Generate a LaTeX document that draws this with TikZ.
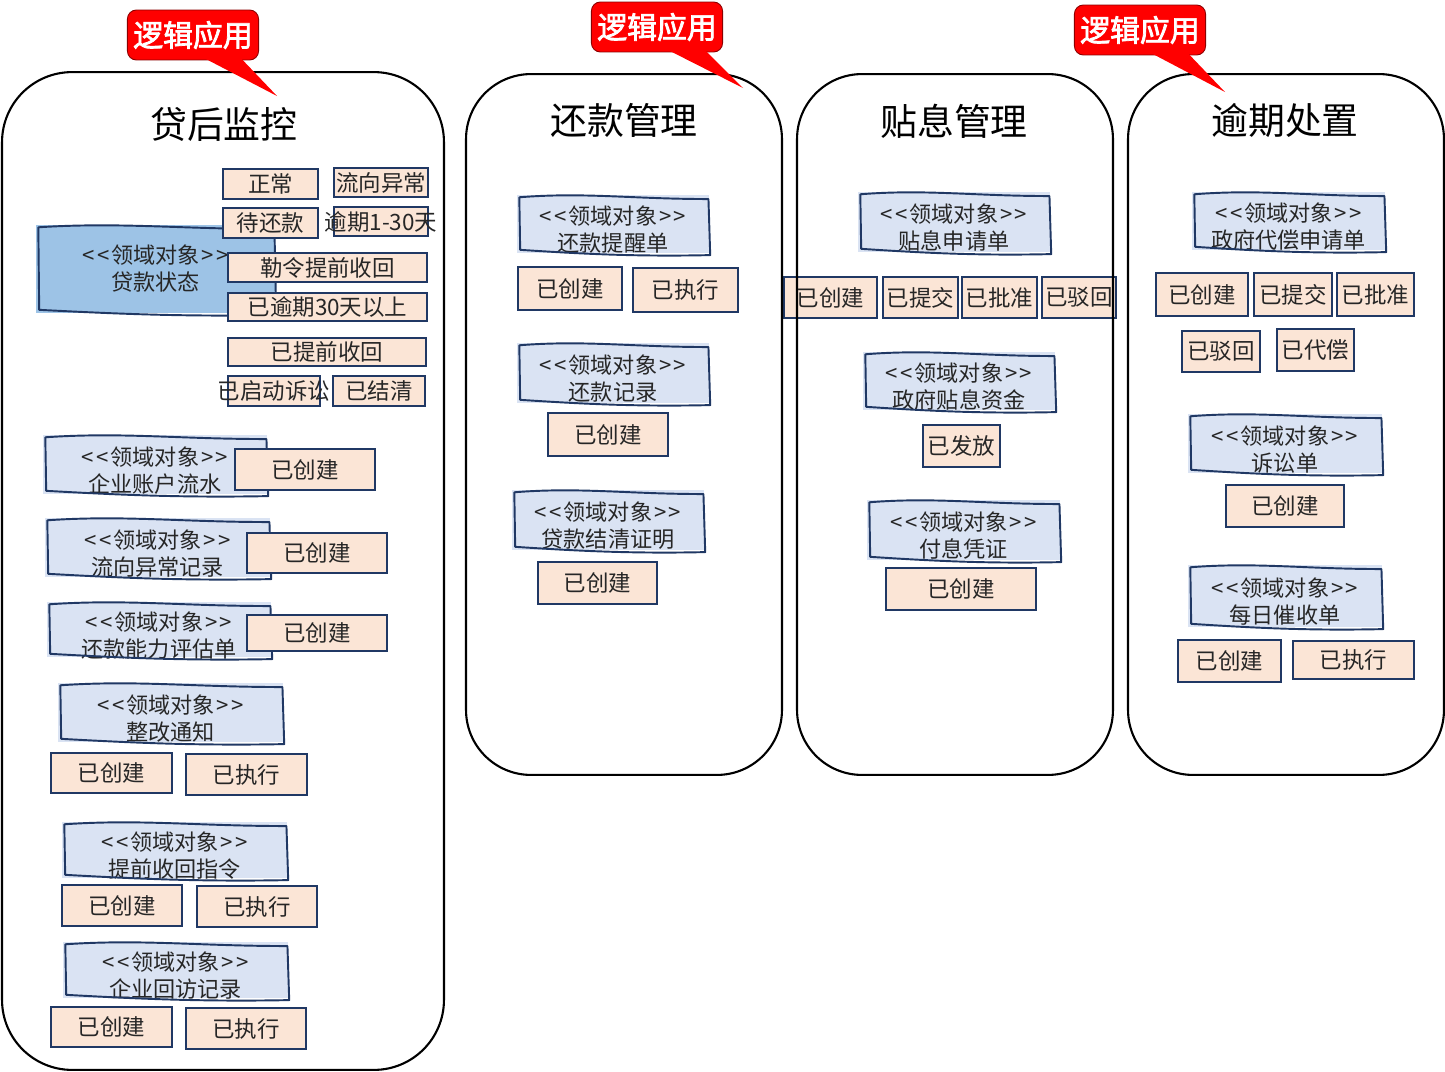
\documentclass[tikz,border=0pt]{standalone}
\usepackage{fontspec}
\setmainfont{Noto Sans CJK SC}
\newfontfamily\calloutfont{Noto Sans CJK SC}[FakeBold=2.5]
\usepackage{tikz}
\usetikzlibrary{positioning, calc}
\definecolor{tagred}{RGB}{255,0,0}
\definecolor{stfill}{RGB}{251,229,214}
\definecolor{stline}{RGB}{32,56,100}
\definecolor{dofill}{RGB}{218,227,243}
\definecolor{dodark}{RGB}{157,195,230}
\definecolor{txtgray}{RGB}{38,38,38}
\newcommand{\dotag}{<\kern1.5pt<\kern1pt领域对象\kern1pt>\kern1.5pt>}
% hand-drawn outline round a domain object
\newcommand{\sketchline}[1]{%
  \draw[sketch]
    ([shift={(1.5pt,-1.5pt)}]#1.north west)
    .. controls ($(#1.north west)!0.35!(#1.north east)+(0,1.5pt)$)
            and ($(#1.north west)!0.6!(#1.north east)+(0,-2.5pt)$)
    .. ([shift={(-0.5pt,-2.5pt)}]#1.north east)
    -- ([shift={(0.5pt,-1pt)}]#1.south east)
    .. controls ($(#1.south west)!0.6!(#1.south east)+(0,-2pt)$)
            and ($(#1.south west)!0.3!(#1.south east)$)
    .. ([shift={(2pt,2pt)}]#1.south west)
    -- cycle;}
\tikzset{
  %% ---- lanes ----
  lane/.style      = {rectangle, rounded corners=1.3cm,
                      draw=black, line width=1.2pt},
  lanetitle/.style = {font=\fontsize{21}{25}\selectfont, text=black},
  callout/.style   = {rectangle, rounded corners=0.18cm,
                      fill=tagred, draw=tagred!55!black, line width=0.5pt,
                      minimum width=2.52cm, minimum height=1cm, text=white,
                      font=\calloutfont\fontsize{17}{20}\selectfont},
  tail/.style      = {fill=tagred},
  %% ---- boxes ----
  domainbox/.style = {rectangle, fill=#1, inner sep=0pt},
  domainbox/.default = dofill,
  sketch/.style    = {draw=stline, line width=1.1pt, line join=round},
  dotext/.style    = {align=center, yshift=-0.12cm, text=txtgray,
                      font=\fontsize{12.6}{15.4}\selectfont},
  statebox/.style 2 args = {rectangle, draw=stline, line width=1.2pt,
                      fill=stfill, minimum width=#1, minimum height=#2,
                      inner sep=0pt, text=txtgray,
                      font=\fontsize{12.8}{15}\selectfont},
}
\begin{document}
\begin{tikzpicture}[x=0.02cm, y=-0.02cm]
\useasboundingbox (0,0) rectangle (1445,1072);

%% domain objects
\node[domainbox=dodark, minimum width=4.78cm, minimum height=1.76cm,
      label={[dotext, yshift=0.12cm]center:\dotag\\贷款状态}] (dkzt) at (155.5,269) {};
\node[domainbox, minimum width=4.48cm, minimum height=1.18cm,
      label={[dotext]center:\dotag\\企业账户流水}] (qyzhls) at (155,464.5) {};
\node[domainbox, minimum width=4.5cm, minimum height=1.18cm,
      label={[dotext]center:\dotag\\流向异常记录}] (lxycjl) at (157.5,547.5) {};
\node[domainbox, minimum width=4.48cm, minimum height=1.1cm,
      label={[dotext]center:\dotag\\还款能力评估单}] (hknlpg) at (159,629.5) {};
\node[domainbox, minimum width=4.5cm, minimum height=1.18cm,
      label={[dotext]center:\dotag\\整改通知}] (zgtz) at (170.5,712.5) {};
\node[domainbox, minimum width=4.5cm, minimum height=1.12cm,
      label={[dotext]center:\dotag\\提前收回指令}] (tqshzl) at (174.5,850) {};
\node[domainbox, minimum width=4.5cm, minimum height=1.12cm,
      label={[dotext]center:\dotag\\企业回访记录}] (qyhfjl) at (175.5,970) {};

\node[domainbox, minimum width=3.84cm, minimum height=1.16cm,
      label={[dotext]center:\dotag\\还款提醒单}] (hktxd) at (613,224) {};
\node[domainbox, minimum width=3.84cm, minimum height=1.2cm,
      label={[dotext]center:\dotag\\还款记录}] (hkjl) at (613,373) {};
\node[domainbox, minimum width=3.84cm, minimum height=1.2cm,
      label={[dotext]center:\dotag\\贷款结清证明}] (dkjqzm) at (608,520) {};

\node[domainbox, minimum width=3.84cm, minimum height=1.2cm,
      label={[dotext]center:\dotag\\贴息申请单}] (txsqd) at (954,222) {};
\node[domainbox, minimum width=3.84cm, minimum height=1.16cm,
      label={[dotext]center:\dotag\\政府贴息资金}] (zftxzj) at (959,381) {};
\node[domainbox, minimum width=3.86cm, minimum height=1.2cm,
      label={[dotext]center:\dotag\\付息凭证}] (fxpz) at (963.5,530) {};

\node[domainbox, minimum width=3.86cm, minimum height=1.16cm,
      label={[dotext]center:\dotag\\政府代偿申请单}] (zfdcsq) at (1288.5,221) {};
\node[domainbox, minimum width=3.88cm, minimum height=1.18cm,
      label={[dotext]center:\dotag\\诉讼单}] (ssd) at (1285,443.5) {};
\node[domainbox, minimum width=3.88cm, minimum height=1.24cm,
      label={[dotext]center:\dotag\\每日催收单}] (mrcsd) at (1285,596) {};

\foreach \n in {dkzt, qyzhls, lxycjl, hknlpg, zgtz, tqshzl, qyhfjl,
                hktxd, hkjl, dkjqzm, txsqd, zftxzj, fxpz, zfdcsq, ssd, mrcsd}
  {\sketchline{\n}}

%% states -- 贷后监控
\node[statebox={1.9cm}{0.6cm}]   (zc)    at (270.5,184)   {正常};
\node[statebox={1.88cm}{0.58cm}] (lxyc)  at (381,182.5)   {流向异常};
\node[statebox={1.9cm}{0.6cm}]   (dhk)   at (270.5,223)   {待还款};
\node[statebox={1.88cm}{0.58cm}] (yq130) at (381,221.5)   {\makebox[0pt]{逾期1-30天}};
\node[statebox={3.98cm}{0.58cm}] (llsh)  at (327.5,267.5) {勒令提前收回};
\node[statebox={3.98cm}{0.56cm}] (yyq30) at (327.5,307)   {已逾期30天以上};
\node[statebox={3.96cm}{0.56cm}] (ytqsh) at (327,352)     {已提前收回};
\node[statebox={1.84cm}{0.6cm}]  (yqdss) at (274,391)     {\makebox[0pt]{已启动诉讼}};
\node[statebox={1.84cm}{0.6cm}]  (yjq)   at (379,391)     {已结清};

\node[statebox={2.8cm}{0.82cm}]  (qyzh-cj) at (305,469.5) {已创建};
\node[statebox={2.8cm}{0.8cm}]   (lxyc-cj) at (317,553)   {已创建};
\node[statebox={2.8cm}{0.72cm}]  (hknl-cj) at (317,633)   {已创建};
\node[statebox={2.42cm}{0.8cm}]  (zgtz-cj) at (111.5,773) {已创建};
\node[statebox={2.42cm}{0.82cm}] (zgtz-zx) at (246.5,774.5) {已执行};
\node[statebox={2.4cm}{0.82cm}]  (tqsh-cj) at (122,905.5) {已创建};
\node[statebox={2.4cm}{0.82cm}]  (tqsh-zx) at (257,906.5) {已执行};
\node[statebox={2.42cm}{0.8cm}]  (qyhf-cj) at (111.5,1027) {已创建};
\node[statebox={2.4cm}{0.82cm}]  (qyhf-zx) at (246,1028.5) {已执行};

%% states -- 还款管理
\node[statebox={2.08cm}{0.86cm}] (hktx-cj) at (570,288.5) {已创建};
\node[statebox={2.1cm}{0.88cm}]  (hktx-zx) at (685.5,290) {已执行};
\node[statebox={2.4cm}{0.86cm}]  (hkjl-cj) at (608,434.5) {已创建};
\node[statebox={2.38cm}{0.84cm}] (dkjq-cj) at (597.5,583) {已创建};

%% states -- 贴息管理
\node[statebox={1.86cm}{0.82cm}] (txsq-cj) at (830.5,297.5) {已创建};
\node[statebox={1.5cm}{0.82cm}]  (txsq-tj) at (920.5,297.5) {已提交};
\node[statebox={1.5cm}{0.82cm}]  (txsq-pz) at (999.5,297.5) {已批准};
\node[statebox={1.48cm}{0.82cm}] (txsq-bh) at (1079,297.5)  {已驳回};
\node[statebox={1.54cm}{0.84cm}] (zftx-ff) at (961.5,446)   {已发放};
\node[statebox={3.0cm}{0.84cm}]  (fxpz-cj) at (961,589)     {已创建};

%% states -- 逾期处置
\node[statebox={1.84cm}{0.86cm}] (zfdc-cj) at (1202,294.5)   {已创建};
\node[statebox={1.56cm}{0.86cm}] (zfdc-tj) at (1293,294.5)   {已提交};
\node[statebox={1.54cm}{0.86cm}] (zfdc-pz) at (1375.5,294.5) {已批准};
\node[statebox={1.56cm}{0.82cm}] (zfdc-bh) at (1221,351.5)   {已驳回};
\node[statebox={1.54cm}{0.84cm}] (zfdc-dc) at (1315.5,350)   {已代偿};
\node[statebox={2.36cm}{0.84cm}] (ssd-cj)  at (1285,506)     {已创建};
\node[statebox={2.06cm}{0.84cm}] (mrcs-cj) at (1229.5,661)   {已创建};
\node[statebox={2.42cm}{0.76cm}] (mrcs-zx) at (1353.5,660)   {已执行};

%% lanes
\node[lane, rounded corners=1.4cm, minimum width=8.84cm, minimum height=19.96cm] (dhjk) at (223,571) {};
\node[lane, minimum width=6.32cm, minimum height=14.02cm] (hkgl) at (624,424.5) {};
\node[lane, minimum width=6.32cm, minimum height=14.02cm] (txgl) at (955,424.5) {};
\node[lane, minimum width=6.32cm, minimum height=14.02cm] (yqcz) at (1286,424.5) {};
\node[lanetitle] (dhjk-t) at (224,124)   {贷后监控};
\node[lanetitle] (hkgl-t) at (624,120)   {还款管理};
\node[lanetitle] (txgl-t) at (954,121)   {贴息管理};
\node[lanetitle] (yqcz-t) at (1285,120)  {逾期处置};

%% callouts
\node[callout] (call1) at (193,35) {逻辑应用};
\node[callout] (call2) at (657,27) {逻辑应用};
\node[callout] (call3) at (1140,30) {逻辑应用};
\coordinate (tip1) at (277,96);
\coordinate (tip2) at (743,88);
\coordinate (tip3) at (1225,92);
\fill[tail] ([yshift=1.5pt]$(call1.south west)!0.58!(call1.south east)$) -- (tip1)
  -- ([yshift=1.5pt]$(call1.south west)!0.86!(call1.south east)$) -- cycle;
\fill[tail] ([yshift=1.5pt]$(call2.south west)!0.58!(call2.south east)$) -- (tip2)
  -- ([yshift=1.5pt]$(call2.south west)!0.86!(call2.south east)$) -- cycle;
\fill[tail] ([yshift=1.5pt]$(call3.south west)!0.58!(call3.south east)$) -- (tip3)
  -- ([yshift=1.5pt]$(call3.south west)!0.86!(call3.south east)$) -- cycle;
\end{tikzpicture}
\end{document}
